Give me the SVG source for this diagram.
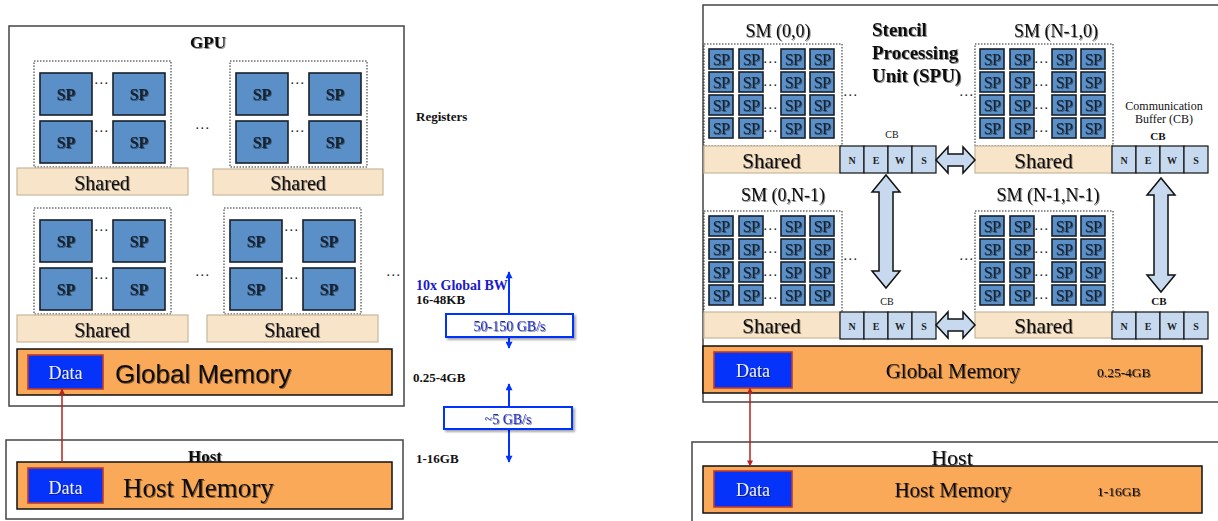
<svg xmlns="http://www.w3.org/2000/svg" width="1218" height="521" viewBox="0 0 1218 521">
<style>
.box{fill:#fff;stroke:#444;stroke-width:1.5}
.sp{fill:#5b8fc8;stroke:#17202b;stroke-width:1.6}
.spt{font-family:"Liberation Serif",serif;font-size:16px;font-weight:bold;text-anchor:middle;fill:#14202e;filter:url(#sh)}
.sps{font-family:"Liberation Serif",serif;font-size:16px;text-anchor:middle;fill:#14202e;filter:url(#sh);letter-spacing:-0.6px}
.dot{fill:none;stroke:#222;stroke-width:1;stroke-dasharray:1.5 1.5}
.shd{fill:#f8e4c9;stroke:#c9b79c;stroke-width:1.2}
.mem{fill:#f9a957;stroke:#111;stroke-width:1.5}
.data{fill:#0533fa;stroke:#c0392b;stroke-width:1.6}
.nw{fill:#c6d9ef;stroke:#111;stroke-width:1.2}
.blk{fill:#c6d9ef;stroke:#111;stroke-width:1.5}
.bw{fill:#fff;stroke:#0033ff;stroke-width:2;filter:url(#bsh)}
.s{font-family:"Liberation Serif",serif;fill:#111}
.c{text-anchor:middle}
.b{font-weight:bold}
.t{filter:url(#sh)}
.dt{font-family:"Liberation Serif",serif;font-size:18px;fill:#eef;text-anchor:middle;filter:url(#sh)}
.dots{font-family:"Liberation Serif",serif;font-size:14px;fill:#111;letter-spacing:1.5px;text-anchor:middle}
.nl{font-family:"Liberation Serif",serif;font-size:10px;font-weight:bold;fill:#222;text-anchor:middle}
</style>
<defs>
<filter id="sh" x="-20%" y="-30%" width="150%" height="170%"><feDropShadow dx="1" dy="1" stdDeviation="0.5" flood-color="#000" flood-opacity="0.45"/></filter>
<filter id="bsh" x="-10%" y="-20%" width="130%" height="160%"><feDropShadow dx="2" dy="2" stdDeviation="1" flood-color="#000" flood-opacity="0.35"/></filter>
<marker id="ab" viewBox="0 0 10 10" refX="9" refY="5" markerUnits="userSpaceOnUse" markerWidth="8" markerHeight="7" orient="auto-start-reverse"><path d="M0,0 L10,5 L0,10 z" fill="#0033ff"/></marker>
<marker id="ar" viewBox="0 0 10 10" refX="9" refY="5" markerUnits="userSpaceOnUse" markerWidth="7" markerHeight="6" orient="auto-start-reverse"><path d="M0,0 L10,5 L0,10 z" fill="#b5241b"/></marker>
<g id="spL"><rect width="52" height="42" class="sp"/><text x="26" y="27" class="spt">SP</text></g>
<g id="spS"><rect width="24" height="20" class="sp"/><text x="12" y="15.5" class="sps">SP</text></g>
<g id="smL">
<rect width="137" height="106" class="dot"/>
<use href="#spL" x="6" y="12"/><use href="#spL" x="79" y="12"/>
<use href="#spL" x="6" y="60"/><use href="#spL" x="79" y="60"/>
<text x="68" y="23" class="dots">...</text><text x="68" y="71" class="dots">...</text>
</g>
<g id="smS">
<rect width="138" height="102" class="dot"/>
<use href="#spS" x="5" y="5"/><use href="#spS" x="35" y="5"/><use href="#spS" x="77" y="5"/><use href="#spS" x="106" y="5"/>
<use href="#spS" x="5" y="28"/><use href="#spS" x="35" y="28"/><use href="#spS" x="77" y="28"/><use href="#spS" x="106" y="28"/>
<use href="#spS" x="5" y="51"/><use href="#spS" x="35" y="51"/><use href="#spS" x="77" y="51"/><use href="#spS" x="106" y="51"/>
<use href="#spS" x="5" y="74"/><use href="#spS" x="35" y="74"/><use href="#spS" x="77" y="74"/><use href="#spS" x="106" y="74"/>
<text x="67" y="19" class="dots">...</text><text x="67" y="42" class="dots">...</text><text x="67" y="65" class="dots">...</text><text x="67" y="88" class="dots">...</text>
</g>
<g id="news">
<rect x="0" width="24" height="27" class="nw"/><rect x="24" width="24" height="27" class="nw"/><rect x="48" width="24" height="27" class="nw"/><rect x="72" width="24" height="27" class="nw"/>
<text x="12" y="18" class="nl">N</text><text x="36" y="18" class="nl">E</text><text x="60" y="18" class="nl">W</text><text x="84" y="18" class="nl">S</text>
</g>
</defs>

<!-- LEFT: GPU -->
<g id="gpu">
<rect x="9" y="26" width="395" height="380" class="box"/>
<text x="208" y="48" class="s c b t" font-size="17">GPU</text>
</g>
<g id="sm-l-tl"><use href="#smL" x="34" y="61"/><rect x="17" y="168" width="171" height="27" class="shd"/><text x="102" y="190" class="s c t" font-size="20">Shared</text></g>
<g id="sm-l-tr"><use href="#smL" x="230" y="61"/><rect x="213" y="169" width="170" height="26" class="shd"/><text x="298" y="190" class="s c t" font-size="20">Shared</text></g>
<g id="sm-l-bl"><use href="#smL" x="34" y="208"/><rect x="17" y="315" width="171" height="27" class="shd"/><text x="102" y="337" class="s c t" font-size="20">Shared</text></g>
<g id="sm-l-br"><use href="#smL" x="224" y="208"/><rect x="207" y="315" width="171" height="27" class="shd"/><text x="292" y="337" class="s c t" font-size="20">Shared</text></g>
<text x="203" y="129" class="dots">...</text>
<text x="203" y="276" class="dots">...</text>
<text x="394" y="276" class="dots">...</text>
<g id="gmem-l">
<rect x="17" y="349" width="375" height="46" class="mem"/>
<rect x="28" y="355" width="75" height="34" class="data"/>
<text x="65.5" y="379" class="dt">Data</text>
<text x="115" y="383" font-family="Liberation Sans, Arial, sans-serif" font-size="26" fill="#111" filter="url(#sh)">Global Memory</text>
</g>
<g id="host-l">
<rect x="6" y="440" width="397" height="79" class="box"/>
<text x="205" y="462" class="s c b t" font-size="17">Host</text>
<rect x="17" y="462" width="375" height="47" class="mem"/>
<rect x="28" y="468" width="75" height="35" class="data"/>
<text x="65.5" y="494" class="dt">Data</text>
<text x="123" y="497" class="s t" font-size="27">Host Memory</text>
</g>

<!-- middle labels -->
<g id="labels">
<text x="416" y="121" class="s b" font-size="13">Registers</text>
<text x="416" y="290" class="s b" font-size="14" style="fill:#1a1acc">10x Global BW</text>
<text x="416" y="304" class="s b" font-size="13">16-48KB</text>
<text x="413" y="382" class="s b" font-size="13">0.25-4GB</text>
<text x="416" y="463" class="s b" font-size="13">1-16GB</text>
</g>

<!-- RIGHT: SPU -->
<g id="spu">
<rect x="703" y="5" width="540" height="397" class="box"/>
<text x="872" y="36" class="s b t" font-size="19">Stencil</text>
<text x="872" y="59" class="s b t" font-size="19">Processing</text>
<text x="872" y="82" class="s b t" font-size="19">Unit (SPU)</text>
<text x="1164" y="110" class="s c" font-size="12">Communication</text>
<text x="1164" y="123" class="s c" font-size="12">Buffer (CB)</text>
</g>
<g id="sm-00">
<text x="778" y="37" class="s c t" font-size="18">SM (0,0)</text>
<use href="#smS" x="704" y="44"/>
<rect x="704" y="146" width="136" height="27" class="shd"/>
<text x="771.5" y="168" class="s c t" font-size="21">Shared</text>
<use href="#news" x="840" y="146"/>
<text x="892" y="138" class="s c" font-size="10">CB</text>
</g>
<g id="sm-n0">
<text x="1056" y="37" class="s c t" font-size="18">SM (N-1,0)</text>
<use href="#smS" x="975" y="44"/>
<rect x="975" y="146" width="137" height="27" class="shd"/>
<text x="1043.5" y="168" class="s c t" font-size="21">Shared</text>
<use href="#news" x="1112" y="146"/>
<text x="1158" y="140" class="s c b" font-size="11">CB</text>
</g>
<g id="sm-0n">
<text x="783" y="201" class="s c t" font-size="18">SM (0,N-1)</text>
<use href="#smS" x="704" y="211"/>
<rect x="704" y="312" width="136" height="26" class="shd"/>
<text x="771.5" y="333" class="s c t" font-size="21">Shared</text>
<use href="#news" x="840" y="312"/>
<text x="887" y="305" class="s c" font-size="10">CB</text>
</g>
<g id="sm-nn">
<text x="1048" y="201" class="s c t" font-size="18">SM (N-1,N-1)</text>
<use href="#smS" x="975" y="211"/>
<rect x="975" y="312" width="137" height="26" class="shd"/>
<text x="1043.5" y="333" class="s c t" font-size="21">Shared</text>
<use href="#news" x="1112" y="312"/>
<text x="1159" y="305" class="s c b" font-size="11">CB</text>
</g>
<text x="851" y="96" class="dots">...</text>
<text x="967" y="96" class="dots">...</text>
<text x="851" y="260" class="dots">...</text>
<text x="967" y="260" class="dots">...</text>
<g id="gmem-r">
<rect x="703" y="346" width="499" height="47" class="mem"/>
<rect x="714" y="352" width="78" height="36" class="data"/>
<text x="753" y="377" class="dt">Data</text>
<text x="953" y="378" class="s c t" font-size="21">Global Memory</text>
<text x="1097" y="377" class="s t" font-size="13.5">0.25-4GB</text>
</g>
<g id="host-r">
<rect x="692" y="442" width="540" height="90" class="box"/>
<text x="952" y="465" class="s c t" font-size="22">Host</text>
<rect x="703" y="466" width="499" height="47" class="mem"/>
<rect x="714" y="471" width="78" height="36" class="data"/>
<text x="753" y="496" class="dt">Data</text>
<text x="953" y="497" class="s c t" font-size="21">Host Memory</text>
<text x="1097" y="496" class="s t" font-size="13.5">1-16GB</text>
</g>

<!-- connectors -->
<g id="connectors">
<line x1="509" y1="272" x2="509" y2="348" stroke="#0033ff" stroke-width="2" marker-start="url(#ab)" marker-end="url(#ab)"/>
<line x1="509" y1="384" x2="509" y2="462" stroke="#0033ff" stroke-width="2" marker-start="url(#ab)" marker-end="url(#ab)"/>
<line x1="62" y1="462" x2="62" y2="389" stroke="#b5241b" stroke-width="1.5" marker-end="url(#ar)"/>
<line x1="750" y1="388" x2="750" y2="466" stroke="#b5241b" stroke-width="1.5" marker-start="url(#ar)" marker-end="url(#ar)"/>
<path d="M936,160 L948,147 L948,154 L963,154 L963,147 L975,160 L963,173 L963,166 L948,166 L948,173 Z" class="blk"/>
<path d="M936,325 L948,312 L948,319 L963,319 L963,312 L975,325 L963,338 L963,331 L948,331 L948,338 Z" class="blk"/>
<path d="M886,175 L900,192 L893,192 L893,271 L900,271 L886,288 L872,271 L879,271 L879,192 L872,192 Z" class="blk"/>
<path d="M1161,178 L1175,195 L1168,195 L1168,275 L1175,275 L1161,292 L1147,275 L1154,275 L1154,195 L1147,195 Z" class="blk"/>
</g>

<g id="bw1"><rect x="446" y="314" width="127" height="23" class="bw"/><text x="509.5" y="331" class="s c t" font-size="14" style="fill:#1a2ad0">50-150 GB/s</text></g>
<g id="bw2"><rect x="444" y="407" width="128" height="22" class="bw"/><text x="508" y="424" class="s c t" font-size="14" style="fill:#1a2ad0">~5 GB/s</text></g>
</svg>
